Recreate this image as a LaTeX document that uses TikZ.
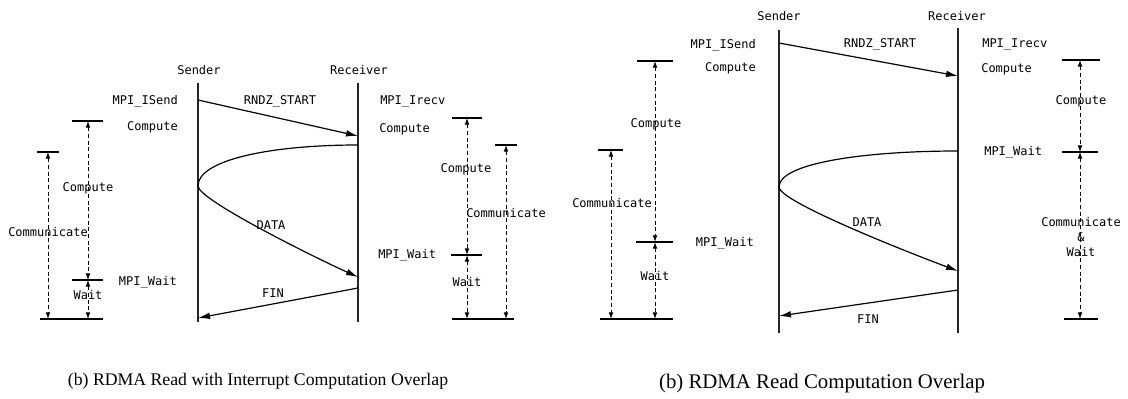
\documentclass[tikz,border=0pt]{standalone}
\usepackage{fontspec}
\setmainfont{Liberation Serif}
\setmonofont{DejaVu Sans Mono}
\usetikzlibrary{arrows.meta,positioning}

\begin{document}
\begin{tikzpicture}[x=0.75pt,y=-0.75pt,
	lbl/.style={font=\ttfamily\fontsize{9}{11.5}\selectfont,inner sep=0pt,align=center},
	lifeline/.style={line width=1.1pt,black!85},
	msg/.style={-{Latex[length=9pt,width=5pt]},line width=0.9pt},
	span/.style={{Latex[length=5pt,width=3.6pt]}-{Latex[length=5pt,width=3.6pt]},densely dashed,line width=0.7pt},
	tick/.style={line width=0.9pt},
	capA/.style={font=\fontsize{13.3}{15}\selectfont,inner sep=0pt},
	capB/.style={font=\fontsize{15.6}{17}\selectfont,inner sep=0pt}]
	\useasboundingbox (0,0) rectangle (1128,399);

	%左图: interrupt
	\node [lbl](sendA) at (199,70) {Sender};
	\node [lbl](recvA) at (359,70) {Receiver};
	\coordinate (sA) at (198,83);  \coordinate (sAend) at (198,322);
	\coordinate (rA) at (358,83);  \coordinate (rAend) at (358,322);
	\draw [lifeline](sA) -- (sAend);
	\draw [lifeline](rA) -- (rAend);

	\coordinate (rndzA1) at (198,100); \coordinate (rndzA2) at (358,136);
	\coordinate (dataA1) at (358,145); \coordinate (dataA2) at (198,186); \coordinate (dataA3) at (358,277);
	\coordinate (finA1) at (358,288);  \coordinate (finA2) at (198,318);
	\draw [msg](rndzA1) -- (rndzA2);
	\draw [line width=0.9pt](dataA1) .. controls (270,145) and (198,160) .. (dataA2);
	\draw [msg](dataA2) .. controls (198,200) and (320,260) .. (dataA3);
	\draw [msg](finA1) -- (finA2);
	\node [lbl](rndzLblA) at (280,101) {RNDZ\_START};
	\node [lbl](dataLblA) at (271,225) {DATA};
	\node [lbl](finLblA) at (273,293) {FIN};

	\node [lbl,anchor=east](isendA) at (178,101) {MPI\_ISend};
	\node [lbl,anchor=east](compSA) at (178,127) {Compute};
	\node [lbl,anchor=east](waitSA) at (177,282) {MPI\_Wait};
	\node [lbl,anchor=west](irecvA) at (380,102) {MPI\_Irecv};
	\node [lbl,anchor=west](compRA) at (379,129) {Compute};
	\node [lbl,anchor=west](waitRA) at (378,255) {MPI\_Wait};

	\coordinate (lA1) at (88,121); \coordinate (lA2) at (88,280); \coordinate (lA3) at (88,319);
	\coordinate (lB1) at (48,152); \coordinate (lB2) at (48,319);
	\draw [tick](72,121) -- (103,121);
	\draw [tick](72,280) -- (103,280);
	\draw [tick](40,319) -- (103,319);
	\draw [tick](37,152) -- (59,152);
	\draw [span](lA1) -- (lA2);
	\draw [span](lA2) -- (lA3);
	\draw [span](lB1) -- (lB2);
	\node [lbl](lCompA) at (88,188) {Compute};
	\node [lbl](lCommA) at (48,232) {Communicate};
	\node [lbl](lWaitA) at (88,295) {Wait};

	\coordinate (rA1) at (467,118); \coordinate (rA2) at (467,255); \coordinate (rA3) at (467,319);
	\coordinate (rB1) at (506,145); \coordinate (rB2) at (506,319);
	\draw [tick](452,118) -- (482,118);
	\draw [tick](451,255) -- (482,255);
	\draw [tick](452,319) -- (514,319);
	\draw [tick](495,145) -- (517,145);
	\draw [span](rA1) -- (rA2);
	\draw [span](rA2) -- (rA3);
	\draw [span](rB1) -- (rB2);
	\node [lbl](rCompA) at (466,169) {Compute};
	\node [lbl](rCommA) at (506,213) {Communicate};
	\node [lbl](rWaitA) at (467,282) {Wait};

	\node [capA](capLeft) at (258,381) {(b) RDMA Read with Interrupt Computation Overlap};

	%右图: no interrupt
	\node [lbl](sendB) at (779,16) {Sender};
	\node [lbl](recvB) at (957,16) {Receiver};
	\coordinate (sB) at (779,30);  \coordinate (sBend) at (779,333);
	\coordinate (rB) at (958,28);  \coordinate (rBend) at (958,333);
	\draw [lifeline](sB) -- (sBend);
	\draw [lifeline](rB) -- (rBend);

	\coordinate (rndzB1) at (779,43);  \coordinate (rndzB2) at (958,76);
	\coordinate (dataB1) at (958,151); \coordinate (dataB2) at (779,187); \coordinate (dataB3) at (958,271);
	\coordinate (finB1) at (958,290);  \coordinate (finB2) at (779,316);
	\draw [msg](rndzB1) -- (rndzB2);
	\draw [line width=0.9pt](dataB1) .. controls (865,151) and (779,163) .. (dataB2);
	\draw [msg](dataB2) .. controls (779,202) and (915,255) .. (dataB3);
	\draw [msg](finB1) -- (finB2);
	\node [lbl](rndzLblB) at (880,44) {RNDZ\_START};
	\node [lbl](dataLblB) at (867,222) {DATA};
	\node [lbl](finLblB) at (868,319) {FIN};

	\node [lbl,anchor=east](isendB) at (756,45) {MPI\_ISend};
	\node [lbl,anchor=east](compSB) at (756,68) {Compute};
	\node [lbl,anchor=east](waitSB) at (754,243) {MPI\_Wait};
	\node [lbl,anchor=west](irecvB) at (982,45) {MPI\_Irecv};
	\node [lbl,anchor=west](compRB) at (981,69) {Compute};
	\node [lbl,anchor=west](waitRB) at (984,152) {MPI\_Wait};

	\coordinate (lC1) at (655,61); \coordinate (lC2) at (655,242); \coordinate (lC3) at (655,319);
	\coordinate (lD1) at (611,150); \coordinate (lD2) at (611,319);
	\draw [tick](637,61) -- (673,61);
	\draw [tick](636,242) -- (673,242);
	\draw [tick](600,319) -- (673,319);
	\draw [tick](598,150) -- (623,150);
	\draw [span](lC1) -- (lC2);
	\draw [span](lC2) -- (lC3);
	\draw [span](lD1) -- (lD2);
	\node [lbl](lCompB) at (656,124) {Compute};
	\node [lbl](lCommB) at (612,203) {Communicate};
	\node [lbl](lWaitB) at (655,276) {Wait};

	\coordinate (rC1) at (1080,60); \coordinate (rC2) at (1080,152); \coordinate (rC3) at (1080,319);
	\draw [tick](1062,60) -- (1100,60);
	\draw [tick](1062,152) -- (1098,152);
	\draw [tick](1064,319) -- (1098,319);
	\draw [span](rC1) -- (rC2);
	\draw [span](rC2) -- (rC3);
	\node [lbl](rCompB) at (1081,101) {Compute};
	\node [lbl](rCommB) at (1081,237) {Communicate\\\&\\Wait};

	\node [capB](capRight) at (822,383) {(b) RDMA Read Computation Overlap};
\end{tikzpicture}
\end{document}
